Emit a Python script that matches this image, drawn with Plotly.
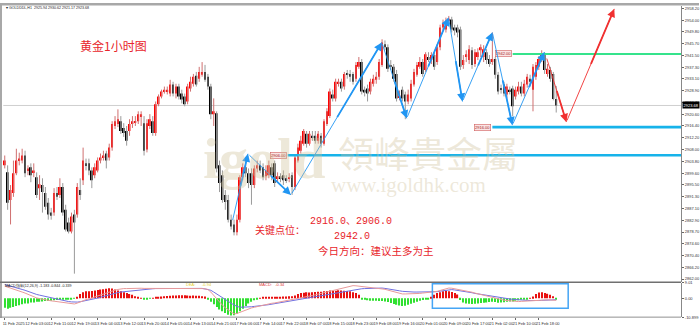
import plotly.graph_objects as go

# ---------------- data ----------------
opens = [2902.4, 2899.9, 2890.1, 2892.6, 2899.6, 2904.1, 2904.1, 2905.9, 2900.6, 2901.7,
         2899.9, 2898.2, 2894.3, 2895.4, 2892.6, 2889.1, 2885.6, 2885.6, 2892.6, 2891.9,
         2894.7, 2886.6, 2882.1, 2878.9, 2884.9, 2884.9, 2893.6, 2897.1, 2903.1, 2903.1,
         2900.6, 2898.9, 2900.6, 2904.1, 2905.2, 2906.6, 2905.2, 2908.7, 2916.4, 2917.1,
         2918.1, 2915.7, 2914.6, 2914.6, 2917.1, 2917.8, 2918.1, 2919.9, 2917.4, 2908.0,
         2916.4, 2918.1, 2913.9, 2924.1, 2926.9, 2928.6, 2928.6, 2927.9, 2931.1, 2927.9,
         2930.4, 2927.9, 2926.9, 2925.1, 2929.7, 2931.4, 2934.2, 2933.2, 2934.6, 2935.6,
         2933.9, 2930.4, 2920.6, 2920.9, 2902.4, 2898.9, 2891.9, 2890.1, 2883.1, 2881.4,
         2878.6, 2883.1, 2898.2, 2901.7, 2899.6, 2899.6, 2895.4, 2901.3, 2902.4, 2901.7,
         2898.5, 2898.9, 2901.7, 2903.1, 2897.8, 2898.5, 2898.9, 2897.8, 2897.8, 2898.9,
         2894.7, 2904.1, 2907.6, 2910.1, 2913.6, 2910.1, 2912.9, 2912.9, 2911.1, 2912.9,
         2910.1, 2917.1, 2919.9, 2927.6, 2926.2, 2931.4, 2932.1, 2930.4, 2934.9, 2934.9,
         2934.9, 2933.2, 2937.4, 2939.1, 2929.3, 2929.7, 2928.6, 2931.4, 2932.8, 2933.9,
         2938.1, 2945.4, 2944.4, 2938.1, 2937.4, 2934.9, 2926.5, 2929.3, 2927.6, 2925.1,
         2926.2, 2931.1, 2934.6, 2937.4, 2939.1, 2936.3, 2940.9, 2939.8, 2941.6, 2939.1,
         2944.4, 2951.4, 2950.7, 2953.8, 2954.2, 2951.4, 2951.4, 2950.7, 2938.1, 2940.9,
         2939.8, 2943.3, 2938.4, 2940.9, 2943.3, 2940.9, 2942.6, 2940.2, 2939.1, 2940.2,
         2934.6, 2929.7, 2931.1, 2927.6, 2929.3, 2929.7, 2926.9, 2928.6, 2930.4, 2927.9,
         2931.1, 2933.2, 2929.3, 2933.9, 2937.4, 2939.8, 2941.9, 2934.9, 2936.3, 2934.9,
         2925.94]
highs = [2905.9, 2902.4, 2895.4, 2904.1, 2908.3, 2906.9, 2908.3, 2907.6, 2902.4, 2903.1,
         2903.1, 2899.9, 2898.9, 2897.8, 2894.7, 2890.8, 2887.3, 2894.3, 2894.7, 2897.8,
         2896.1, 2888.4, 2883.8, 2885.6, 2886.6, 2896.1, 2897.8, 2908.7, 2904.8, 2904.8,
         2901.7, 2903.1, 2905.2, 2906.6, 2907.6, 2907.6, 2910.1, 2918.1, 2919.9, 2922.3,
         2919.9, 2917.4, 2916.4, 2918.8, 2919.9, 2919.9, 2921.6, 2921.6, 2919.9, 2918.8,
         2920.6, 2919.9, 2925.1, 2927.6, 2929.3, 2930.4, 2930.4, 2932.8, 2932.1, 2931.4,
         2931.4, 2929.3, 2927.9, 2931.4, 2933.9, 2934.9, 2935.6, 2937.4, 2939.1, 2938.1,
         2934.9, 2931.4, 2926.2, 2921.6, 2904.1, 2900.6, 2893.6, 2891.9, 2884.9, 2883.1,
         2884.9, 2898.9, 2903.1, 2903.1, 2901.3, 2901.3, 2902.4, 2904.1, 2904.1, 2903.1,
         2902.4, 2904.1, 2903.1, 2904.1, 2899.9, 2899.6, 2900.6, 2898.9, 2899.6, 2899.9,
         2905.9, 2910.1, 2912.9, 2915.3, 2914.6, 2914.6, 2914.6, 2914.6, 2914.6, 2913.9,
         2918.8, 2922.7, 2929.7, 2929.3, 2933.2, 2933.2, 2933.2, 2935.6, 2936.3, 2936.3,
         2935.6, 2939.1, 2940.9, 2940.2, 2930.4, 2931.1, 2933.2, 2934.6, 2935.6, 2940.2,
         2947.2, 2946.8, 2945.4, 2939.8, 2938.4, 2936.3, 2929.0, 2930.4, 2928.6, 2929.3,
         2932.8, 2936.7, 2939.1, 2940.9, 2940.2, 2942.6, 2942.6, 2942.6, 2942.6, 2945.4,
         2952.4, 2954.2, 2954.9, 2955.5, 2955.2, 2952.4, 2952.4, 2951.7, 2941.6, 2943.3,
         2945.1, 2944.4, 2943.7, 2944.0, 2945.4, 2945.1, 2943.7, 2941.6, 2949.6, 2940.9,
         2935.6, 2931.1, 2932.1, 2931.4, 2930.4, 2930.7, 2930.4, 2932.1, 2932.1, 2932.8,
         2934.9, 2934.6, 2938.4, 2939.1, 2941.2, 2943.3, 2942.6, 2938.4, 2937.4, 2935.6,
         2930.62]
lows = [2901.3, 2886.6, 2881.4, 2891.2, 2898.9, 2902.4, 2903.1, 2898.2, 2898.9, 2896.4,
        2898.2, 2890.8, 2890.1, 2885.6, 2886.6, 2883.1, 2883.1, 2884.5, 2890.1, 2890.8,
        2884.5, 2878.9, 2878.2, 2878.2, 2863.9, 2883.8, 2890.1, 2895.4, 2900.6, 2898.9,
        2894.3, 2897.8, 2899.9, 2903.1, 2904.1, 2901.3, 2904.1, 2907.6, 2915.3, 2916.0,
        2913.6, 2912.5, 2909.4, 2912.9, 2915.7, 2916.4, 2917.1, 2916.4, 2905.9, 2907.0,
        2915.3, 2912.9, 2912.9, 2923.4, 2926.2, 2927.9, 2927.6, 2926.9, 2926.9, 2926.2,
        2925.8, 2924.4, 2923.4, 2924.1, 2928.6, 2930.4, 2930.4, 2932.1, 2933.9, 2932.1,
        2929.3, 2918.8, 2916.4, 2899.9, 2892.9, 2889.1, 2886.6, 2882.1, 2879.6, 2877.5,
        2877.5, 2882.1, 2897.1, 2898.2, 2894.3, 2888.4, 2894.3, 2899.9, 2899.6, 2897.1,
        2897.1, 2897.8, 2897.1, 2894.7, 2896.4, 2896.4, 2895.4, 2896.1, 2896.4, 2891.9,
        2893.6, 2903.4, 2906.6, 2909.4, 2908.7, 2909.4, 2911.1, 2910.1, 2910.1, 2908.7,
        2909.4, 2916.4, 2919.2, 2925.1, 2925.1, 2930.4, 2928.6, 2929.3, 2933.2, 2932.1,
        2931.1, 2932.1, 2936.7, 2927.6, 2926.9, 2925.1, 2927.6, 2930.4, 2931.4, 2932.8,
        2937.4, 2943.3, 2935.6, 2936.3, 2932.1, 2925.1, 2925.5, 2925.1, 2918.8, 2924.1,
        2925.1, 2930.4, 2933.9, 2936.7, 2933.9, 2935.6, 2939.1, 2938.4, 2936.3, 2938.1,
        2943.3, 2950.3, 2949.6, 2952.4, 2949.6, 2948.6, 2947.9, 2936.3, 2936.7, 2939.1,
        2938.4, 2936.7, 2937.4, 2939.8, 2940.9, 2939.1, 2938.4, 2937.4, 2938.1, 2933.2,
        2927.6, 2927.9, 2926.9, 2926.2, 2927.6, 2919.9, 2925.8, 2927.6, 2926.9, 2926.9,
        2930.0, 2930.4, 2921.6, 2932.8, 2936.3, 2939.1, 2934.9, 2933.9, 2932.1, 2925.5,
        2921.17]
closes = [2904.1, 2889.1, 2893.6, 2899.6, 2904.1, 2904.8, 2905.9, 2899.6, 2901.3, 2898.9,
          2900.6, 2891.9, 2895.7, 2892.9, 2887.7, 2884.9, 2884.5, 2892.6, 2891.2, 2894.7,
          2885.6, 2879.6, 2878.9, 2884.2, 2882.1, 2894.7, 2891.9, 2904.1, 2902.4, 2900.6,
          2897.1, 2901.7, 2904.1, 2905.2, 2905.9, 2904.1, 2908.7, 2917.1, 2918.1, 2918.8,
          2914.6, 2913.9, 2911.1, 2917.1, 2918.1, 2918.1, 2920.6, 2920.6, 2907.6, 2917.4,
          2918.8, 2913.9, 2924.1, 2926.9, 2928.6, 2929.3, 2929.3, 2931.1, 2927.9, 2930.4,
          2926.9, 2925.8, 2924.1, 2930.4, 2932.1, 2933.9, 2931.1, 2935.6, 2935.6, 2932.8,
          2930.4, 2920.6, 2921.6, 2901.3, 2896.1, 2890.1, 2889.4, 2883.1, 2880.7, 2878.6,
          2883.1, 2898.2, 2901.7, 2899.6, 2896.1, 2895.4, 2901.3, 2902.4, 2900.6, 2898.2,
          2900.6, 2902.4, 2898.9, 2896.1, 2898.5, 2897.8, 2897.1, 2897.1, 2898.2, 2894.7,
          2905.2, 2908.7, 2911.1, 2914.6, 2910.1, 2913.6, 2912.2, 2911.1, 2913.6, 2910.1,
          2918.1, 2921.6, 2928.6, 2926.2, 2932.1, 2932.1, 2929.7, 2934.9, 2934.6, 2933.9,
          2932.1, 2938.1, 2939.1, 2928.6, 2928.3, 2927.9, 2932.1, 2933.2, 2933.9, 2939.1,
          2946.1, 2944.4, 2936.7, 2937.4, 2933.2, 2926.2, 2927.2, 2926.2, 2925.1, 2927.6,
          2931.4, 2935.6, 2938.1, 2939.1, 2934.9, 2941.9, 2940.2, 2941.6, 2937.4, 2944.4,
          2951.4, 2953.1, 2953.8, 2954.5, 2950.7, 2950.3, 2949.6, 2937.4, 2939.8, 2941.9,
          2943.7, 2938.1, 2942.6, 2942.6, 2944.4, 2943.7, 2939.8, 2938.4, 2940.2, 2934.6,
          2928.6, 2929.3, 2927.9, 2930.4, 2928.6, 2923.4, 2929.3, 2930.4, 2927.9, 2931.4,
          2933.9, 2932.1, 2937.4, 2938.1, 2940.2, 2941.9, 2936.3, 2936.7, 2933.2, 2926.0,
          2923.68]

macd_hist = [-5.5, -6.0, -5.5, -5.0, -4.5, -4.0, -3.5, -3.0, -3.0, -2.5,
             -2.5, -2.0, -2.0, -1.8, -1.6, -1.6, -1.4, -1.2, -1.0, -1.0,
             -0.8, -0.8, -0.6, -0.4, -0.2, 0.4, 2.5, 3.5, 4.0, 4.0,
             4.2, 4.5, 4.8, 5.0, 5.2, 5.5, 5.8, 5.6, 5.0, 4.5,
             4.0, 3.5, 3.0, 2.5, 2.0, 1.2, 0.6, 0.3, -0.3, -0.3,
             -0.2, 0.3, 0.5, 0.8, 1.0, 1.2, 1.3, 1.5, 1.6, 1.6,
             1.7, 1.8, 1.7, 1.6, 1.5, 1.6, 1.5, 1.4, 1.2, 1.0,
             -0.5, -2.0, -3.5, -5.0, -6.5, -7.5, -8.5, -9.5, -10.0, -9.8,
             -9.0, -7.5, -6.0, -4.5, -3.0, -2.0, -1.2, -0.5, 0.3, 0.5,
             0.6, 0.6, 0.7, 0.8, 0.8, 0.9, 1.0, 1.0, 1.1, 1.2,
             1.6, 2.5, 3.0, 3.2, 3.5, 3.4, 3.5, 3.6, 3.7, 3.8,
             4.0, 4.2, 4.5, 4.5, 4.4, 4.6, 4.5, 4.3, 4.2, 4.0,
             3.5, 3.0, 2.0, -0.3, -0.8, -1.2, -1.4, -1.5, -1.5, -1.6,
             -1.6, -1.8, -2.2, -2.8, -3.3, -3.8, -4.2, -4.5, -4.3, -3.8,
             -3.2, -2.6, -2.0, -1.5, -1.0, -0.6, -0.3, 0.5, 2.0, 3.0,
             3.5, 4.0, 4.2, 4.0, 3.6, 3.0, 2.2, -1.0, -2.5, -3.0,
             -3.2, -3.3, -3.2, -3.0, -2.8, -2.6, -2.5, -2.2, -2.0, -2.2,
             -2.6, -2.5, -2.3, -2.0, -1.8, -1.8, -1.5, -1.2, -0.9, -0.6,
             -0.3, 0.2, 1.0, 2.5, 3.3, 3.5, 3.0, 2.6, 2.0, 1.2,
             -0.34]
macd_dif = [7.0, 6.5, 6.0, 5.4, 4.8, 4.2, 3.6, 3.0, 2.2, 1.4,
            0.6, 0.2, -0.2, -0.6, -0.9, -1.2, -1.5, -1.7, -1.9, -2.1,
            -2.2, -2.3, -2.6, -3.0, -3.3, -2.8, -2.0, -1.3, -0.8, -0.4,
            0.2, 0.7, 1.2, 1.6, 2.2, 2.9, 3.6, 4.2, 4.7, 5.1,
            5.5, 5.6, 5.6, 5.7, 5.7, 5.8, 5.8, 5.8, 5.7, 5.7,
            5.8, 5.8, 5.9, 5.9, 6.0, 6.0, 6.0, 6.0, 6.0, 6.0,
            5.9, 5.9, 5.9, 5.9, 5.9, 5.9, 5.8, 5.7, 5.6, 5.4,
            5.1, 3.6, 1.6, -0.4, -2.3, -4.0, -5.5, -6.8, -8.0, -9.1,
            -8.8, -8.1, -7.5, -6.8, -6.1, -5.6, -5.2, -4.8, -4.4, -3.9,
            -3.3, -3.1, -2.9, -2.7, -2.4, -2.1, -1.8, -1.5, -1.2, -0.9,
            -0.6, -0.3, 0.0, 0.4, 0.8, 1.2, 1.6, 2.0, 2.4, 2.8,
            3.2, 3.6, 4.1, 4.6, 5.1, 5.6, 6.0, 6.4, 6.8, 7.2,
            7.3, 7.2, 7.0, 6.9, 6.8, 6.6, 6.5, 6.3, 6.0, 5.8,
            5.5, 5.2, 4.7, 4.2, 3.7, 3.1, 2.6, 2.5, 2.5, 2.5,
            2.5, 2.6, 2.6, 2.8, 3.0, 3.2, 3.4, 3.5, 3.6, 4.0,
            4.5, 5.0, 5.5, 5.9, 5.8, 5.5, 5.2, 4.9, 4.7, 4.5,
            4.0, 3.5, 3.0, 2.6, 2.1, 1.6, 1.1, 0.7, 0.3, -0.2,
            -0.6, -0.9, -1.1, -1.3, -1.5, -1.7, -1.9, -1.9, -1.8, -1.7,
            -1.5, -1.4, -1.3, -1.1, -0.9, -0.8, -0.8, -0.9, -1.0, -1.1,
            -1.18]
macd_dea = [7.9, 7.5, 7.0, 6.6, 6.1, 5.6, 5.1, 4.6, 3.9, 3.3,
            2.6, 2.2, 1.8, 1.4, 1.0, 0.6, 0.2, -0.3, -0.6, -0.9,
            -1.3, -1.6, -1.9, -2.1, -2.3, -2.2, -2.0, -1.7, -1.4, -1.1,
            -0.8, -0.4, 0.1, 0.6, 1.1, 1.6, 2.1, 2.6, 3.0, 3.3,
            3.6, 3.8, 4.1, 4.3, 4.5, 4.7, 4.9, 5.1, 5.2, 5.4,
            5.5, 5.5, 5.6, 5.6, 5.7, 5.7, 5.7, 5.8, 5.8, 5.8,
            5.8, 5.8, 5.9, 5.9, 5.9, 5.9, 5.9, 5.9, 5.7, 5.4,
            5.0, 4.6, 3.6, 2.6, 1.6, 0.6, -0.6, -1.8, -2.9, -4.0,
            -4.7, -5.2, -5.2, -5.1, -5.0, -4.9, -4.7, -4.6, -4.4, -4.2,
            -3.9, -3.7, -3.4, -3.2, -2.9, -2.6, -2.3, -2.0, -1.7, -1.4,
            -1.1, -0.9, -0.8, -0.5, -0.2, 0.1, 0.4, 0.7, 1.0, 1.3,
            1.6, 1.9, 2.2, 2.6, 3.0, 3.4, 3.8, 4.1, 4.3, 4.5,
            4.8, 5.1, 5.3, 5.5, 5.6, 5.7, 5.8, 5.9, 5.9, 5.9,
            5.9, 5.7, 5.5, 5.2, 4.9, 4.6, 4.3, 4.0, 3.8, 3.7,
            3.6, 3.6, 3.6, 3.6, 3.6, 3.6, 3.6, 3.6, 3.6, 3.8,
            4.1, 4.4, 4.8, 5.1, 5.0, 4.8, 4.6, 4.4, 4.2, 4.0,
            3.6, 3.2, 2.8, 2.5, 2.2, 1.9, 1.6, 1.3, 1.0, 0.8,
            0.6, 0.3, 0.0, -0.2, -0.4, -0.6, -0.8, -0.9, -1.0, -1.1,
            -1.2, -1.3, -1.4, -1.4, -1.3, -1.2, -1.1, -1.0, -0.9, -0.9,
            -0.84]

tick_pos = [0, 8, 16, 24, 32, 40, 48, 56, 64, 72, 80, 88, 96, 104, 112, 120,
            128, 136, 144, 152, 160, 168, 176, 184]
tick_labels = ["11 Feb 2025", "12 Feb 03:00", "12 Feb 11:00", "12 Feb 19:00",
               "13 Feb 04:00", "13 Feb 12:00", "13 Feb 20:00", "14 Feb 05:00",
               "14 Feb 13:00", "14 Feb 21:00", "17 Feb 06:00", "17 Feb 14:00",
               "17 Feb 22:00", "18 Feb 07:00", "18 Feb 15:00", "18 Feb 23:00",
               "19 Feb 08:00", "19 Feb 16:00", "20 Feb 01:00", "20 Feb 09:00",
               "20 Feb 17:00", "21 Feb 02:00", "21 Feb 10:00", "21 Feb 18:00"]
price_ticks = [2958.20, 2954.00, 2949.80, 2945.70, 2941.50, 2937.30, 2933.10, 2928.90,
               2924.70, 2920.60, 2916.40, 2912.20, 2908.00, 2903.80, 2899.60, 2895.50,
               2891.30, 2887.10, 2882.90, 2878.70, 2874.60, 2870.40, 2866.20, 2862.00]
macd_ticks = [9.01, 0.0, -10.899]
macd_tick_text = ["9.01", "0.00", "-10.899"]

key_levels = [2942.0, 2916.0, 2906.0]
key_level_start = [175, 168, 97.5]
key_level_colors = ["#35e38c", "#17b3ea", "#17b3ea"]

blue_path_x = [78.4, 83.8, 98.6, 129.9, 138.5, 152.9, 157.7, 168.0, 174.9, 185.9]
blue_path_y = [2882.4, 2906.5, 2891.9, 2946.1, 2919.1, 2954.9, 2925.1, 2949.6, 2916.7, 2942.6]
red_path_x = [186.6, 193.5, 210.0]
red_path_y = [2940.9, 2917.8, 2958.0]

last_price = 2923.68
header_text = "GOLDDDL,H1  2925.94 2930.62 2921.17 2923.68"
macd_header = "MACD指标(12,26,9) -1.183 -0.844 -0.339"

X_MAX = 233.0
Y_MIN, Y_MAX = 2861.05, 2959.05

# ---------------- figure ----------------
n = len(closes)
idx = list(range(n))
fig = go.Figure()

up_i = [i for i in idx if closes[i] >= opens[i]]
dn_i = [i for i in idx if closes[i] < opens[i]]


def wicks(sel):
    xs, ys = [], []
    for i in sel:
        xs += [i, i, None]
        ys += [lows[i], highs[i], None]
    return xs, ys


wx, wy = wicks(up_i)
fig.add_trace(go.Scatter(x=wx, y=wy, mode="lines", line=dict(color="#d07070", width=1),
                         hoverinfo="skip"))
wx, wy = wicks(dn_i)
fig.add_trace(go.Scatter(x=wx, y=wy, mode="lines", line=dict(color="#9a9a9a", width=1),
                         hoverinfo="skip"))

fig.add_trace(go.Bar(x=up_i, y=[max(closes[i] - opens[i], 0.3) for i in up_i],
                     base=[opens[i] for i in up_i], width=0.62,
                     marker=dict(color="#ff0000", line=dict(width=0))))
fig.add_trace(go.Bar(x=dn_i, y=[opens[i] - closes[i] for i in dn_i],
                     base=[closes[i] for i in dn_i], width=0.62,
                     marker=dict(color="#000000", line=dict(width=0))))

# MACD panel
fig.add_trace(go.Bar(x=idx, y=macd_hist, xaxis="x2", yaxis="y2", width=0.42,
                     marker=dict(color=["#e81010" if v > 0 else "#30e030" for v in macd_hist],
                                 line=dict(width=0))))
fig.add_trace(go.Scatter(x=idx, y=macd_dea, xaxis="x2", yaxis="y2", mode="lines",
                         line=dict(color="#7070e0", width=1)))
fig.add_trace(go.Scatter(x=idx, y=macd_dif, xaxis="x2", yaxis="y2", mode="lines",
                         line=dict(color="#e89a9a", width=1)))

shapes = []
annotations = []

# current price line
shapes.append(dict(type="line", xref="x", yref="y", x0=-0.5, x1=X_MAX, y0=last_price,
                   y1=last_price, line=dict(color="#cfcfcf", width=1), layer="below"))

# key horizontal levels
for lv, x0, col in zip(key_levels, key_level_start, key_level_colors):
    shapes.append(dict(type="line", xref="x", yref="y", x0=x0, x1=X_MAX, y0=lv, y1=lv,
                       line=dict(color=col, width=2.6 if col != "#35e38c" else 2)))
    annotations.append(dict(xref="x", yref="y", x=x0 - 0.4, y=lv, xanchor="right",
                            yanchor="middle",
                            text="%.2f" % lv, showarrow=False, bgcolor="#fbe4e4",
                            bordercolor="#d06060", borderwidth=0.6, borderpad=0.5,
                            font=dict(size=4, color="#a02020", family="Liberation Sans")))


def arrow_path(xs, ys, color):
    for k in range(len(xs) - 1):
        x0, y0, x1, y1 = xs[k], ys[k], xs[k + 1], ys[k + 1]
        mx, my = (x0 + x1) / 2, (y0 + y1) / 2
        annotations.append(dict(x=x1, y=y1, ax=x0, ay=y0, xref="x", yref="y", axref="x",
                                ayref="y", text="", showarrow=True, arrowhead=0,
                                arrowwidth=0.9, arrowcolor=color, standoff=0))
        annotations.append(dict(x=x1, y=y1, ax=mx, ay=my, xref="x", yref="y", axref="x",
                                ayref="y", text="", showarrow=True, arrowhead=2,
                                arrowsize=0.9, arrowwidth=1.8, arrowcolor=color, standoff=0))


arrow_path(blue_path_x, blue_path_y, "#2196f3")
arrow_path(red_path_x, red_path_y, "#f03030")

# watermark
wm = "rgba(205,190,150,0.36)"
annotations += [
    dict(xref="paper", yref="paper", x=0.378, y=0.52, text="<b>igold</b>", showarrow=False,
         font=dict(size=58, color=wm, family="Liberation Serif"), xanchor="center"),
    dict(xref="paper", yref="paper", x=0.612, y=0.54, text="領峰貴金屬", showarrow=False,
         font=dict(size=36, color=wm, family="Noto Sans CJK TC"), xanchor="center"),
    dict(xref="paper", yref="paper", x=0.585, y=0.435, text="www.igoldhk.com", showarrow=False,
         font=dict(size=21, color=wm, family="Liberation Serif"), xanchor="center"),
]

red = "#e8262c"
txt_font = "Liberation Mono, Noto Sans CJK SC"
annotations += [
    dict(xref="paper", yref="paper", x=0.111, y=0.902, text="黄金1小时图", showarrow=False,
         font=dict(size=12, color=red, family="Noto Sans CJK SC")),
    dict(xref="paper", yref="paper", x=0.502, y=0.299, text="2916.0、2906.0", showarrow=False,
         font=dict(size=10, color=red, family=txt_font)),
    dict(xref="paper", yref="paper", x=0.40, y=0.268, text="关键点位：", showarrow=False,
         font=dict(size=10, color=red, family=txt_font)),
    dict(xref="paper", yref="paper", x=0.503, y=0.253, text="2942.0", showarrow=False,
         font=dict(size=10, color=red, family=txt_font)),
    dict(xref="paper", yref="paper", x=0.452, y=0.204, text="今日方向：建议主多为主",
         showarrow=False, xanchor="left",
         font=dict(size=10.5, color=red, family=txt_font)),
    # header texts
    dict(xref="paper", yref="paper", x=0.006, y=1 - 5 / 328, text="▾ " + header_text,
         showarrow=False, xanchor="left", yanchor="middle",
         font=dict(size=3.6, color="#222", family="Liberation Sans")),
    dict(xref="paper", yref="paper", x=0.004, y=1 - 287 / 328, text=macd_header,
         showarrow=False, xanchor="left", yanchor="middle",
         font=dict(size=3.6, color="#222", family="Liberation Sans")),
    dict(xref="paper", yref="paper", x=0.263, y=1 - 286 / 328, text="DEA:      -0.94",
         showarrow=False, xanchor="left", yanchor="middle",
         font=dict(size=4, color="#e6d02a", family="Liberation Sans")),
    dict(xref="paper", yref="paper", x=0.367, y=1 - 286 / 328, text="MACD:   -0.34",
         showarrow=False, xanchor="left", yanchor="middle",
         font=dict(size=4, color="#e03a3a", family="Liberation Sans")),
    # price box
    dict(xref="paper", yref="y", x=683 / 700, y=last_price, text="%.2f" % last_price,
         showarrow=False, xanchor="left", yanchor="middle", bgcolor="#000000",
         font=dict(size=4, color="#ffffff", family="Liberation Sans"), borderpad=0.5),
]

# frame bits
shapes += [
    dict(type="rect", xref="paper", yref="paper", x0=0, x1=1, y0=1 - 2.5 / 328, y1=1,
         fillcolor="#a8a8a8", line=dict(width=0)),
    dict(type="rect", xref="paper", yref="paper", x0=0, x1=2 / 700, y0=1 - 320 / 328, y1=1,
         fillcolor="#a8a8a8", line=dict(width=0)),
    dict(type="line", xref="paper", yref="paper", x0=0, x1=682 / 700, y0=1 - 283.5 / 328,
         y1=1 - 283.5 / 328, line=dict(color="#707070", width=1.5)),
    dict(type="line", xref="paper", yref="paper", x0=0, x1=682 / 700, y0=1 - 319 / 328,
         y1=1 - 319 / 328, line=dict(color="#909090", width=1)),
    dict(type="rect", xref="paper", yref="paper", x0=433 / 700, x1=569 / 700,
         y0=1 - 310 / 328, y1=1 - 285 / 328, line=dict(color="#45a5f5", width=1.5)),
]

tick_font = dict(size=4, color="#333333", family="Liberation Sans")
fig.update_layout(
    width=700, height=328, margin=dict(l=0, r=0, t=0, b=0),
    paper_bgcolor="white", plot_bgcolor="white", showlegend=False, barmode="overlay",
    xaxis=dict(domain=[3 / 700, 682 / 700], range=[-0.6, X_MAX], showticklabels=False,
               showgrid=False, zeroline=False, showline=False, anchor="y"),
    yaxis=dict(domain=[1 - 283 / 328, 1 - 3 / 328], range=[Y_MIN, Y_MAX], side="right",
               tickvals=price_ticks, ticktext=["%.2f" % v for v in price_ticks],
               ticks="outside", ticklen=2, tickcolor="#666", tickfont=tick_font,
               showgrid=False, zeroline=False, showline=True, linecolor="#888", linewidth=1,
               anchor="x"),
    xaxis2=dict(domain=[3 / 700, 682 / 700], range=[-0.6, X_MAX], anchor="y2",
                tickvals=tick_pos, ticktext=tick_labels, ticks="outside", ticklen=2,
                tickcolor="#666", tickfont=tick_font, tickangle=0, ticklabelshift=9,
                showgrid=False, zeroline=False, showline=False),
    yaxis2=dict(domain=[1 - 319 / 328, 1 - 284 / 328], range=[-10.899, 9.01], side="right",
                tickvals=macd_ticks, ticktext=macd_tick_text, ticks="outside", ticklen=2,
                tickcolor="#666", tickfont=tick_font, showgrid=False, zeroline=False,
                showline=True, linecolor="#888", linewidth=1, anchor="x2"),
    shapes=shapes, annotations=annotations,
)

fig.write_html("out.html")
